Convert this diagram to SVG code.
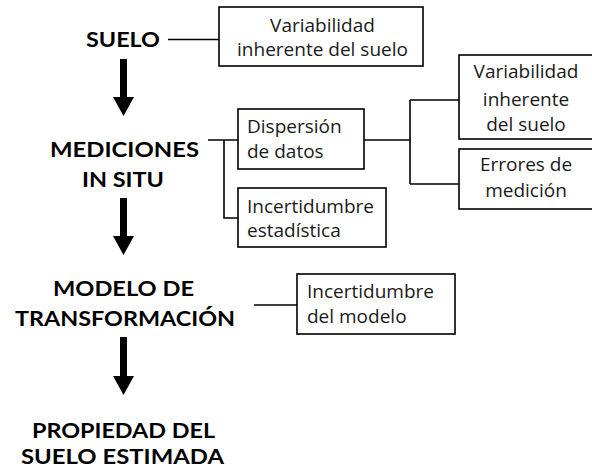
<svg xmlns="http://www.w3.org/2000/svg" width="592" height="470" viewBox="0 0 592 470">
<style>
.title{font-family:Lato,"Open Sans",sans-serif;font-weight:bold;font-size:21.5px;fill:#000;text-anchor:middle}
.body{font-family:"Open Sans","DejaVu Sans",sans-serif;font-size:19px;fill:#1a1a1a}
.mid{text-anchor:middle}
.box{fill:#fff;stroke:#000;stroke-width:1.6}
.conn{fill:none;stroke:#000;stroke-width:1.6}
.arrow{fill:#000}
</style>
<rect width="592" height="470" fill="#fff"/>
<g id="connectors">
<path class="conn" d="M168 39.5H219"/>
<path class="conn" d="M208 140H238M224 140V218H238"/>
<path class="conn" d="M364 140H410M410 100V184M410 100H459M410 184H459"/>
<path class="conn" d="M254 305H297"/>
<path class="arrow" d="M120 59H127V97H134L123.5 116L113 97H120Z"/>
<path class="arrow" d="M120 198H127V236H134L123.5 255L113 236H120Z"/>
<path class="arrow" d="M120 337H127V376H134L123.5 395L113 376H120Z"/>
</g>
<g id="suelo"><text class="title" x="123" y="47" textLength="74" lengthAdjust="spacingAndGlyphs">SUELO</text></g>
<g id="mediciones"><text class="title" x="124.5" y="157" textLength="149" lengthAdjust="spacingAndGlyphs">MEDICIONES</text><text class="title" x="123" y="187" textLength="82" lengthAdjust="spacingAndGlyphs">IN SITU</text></g>
<g id="modelo"><text class="title" x="123.5" y="296" textLength="141" lengthAdjust="spacingAndGlyphs">MODELO DE</text><text class="title" x="125" y="326" textLength="220" lengthAdjust="spacingAndGlyphs">TRANSFORMACIÓN</text></g>
<g id="propiedad"><text class="title" x="123.5" y="438" textLength="183" lengthAdjust="spacingAndGlyphs">PROPIEDAD DEL</text><text class="title" x="122.5" y="464" textLength="203" lengthAdjust="spacingAndGlyphs">SUELO ESTIMADA</text></g>
<g id="var1"><rect class="box" x="219" y="7" width="204" height="59"/><text class="body mid" x="322.5" y="32">Variabilidad</text><text class="body mid" x="322.5" y="56">inherente del suelo</text></g>
<g id="dispersion"><rect class="box" x="238" y="109" width="126" height="60"/><text class="body" x="247" y="133">Dispersión</text><text class="body" x="247" y="158">de datos</text></g>
<g id="incest"><rect class="box" x="238" y="188" width="148" height="59"/><text class="body" x="247" y="213">Incertidumbre</text><text class="body" x="247" y="237">estadística</text></g>
<g id="var2"><rect class="box" x="459" y="55" width="150" height="84"/><text class="body mid" x="526" y="78">Variabilidad</text><text class="body mid" x="526" y="106">inherente</text><text class="body mid" x="526" y="131">del suelo</text></g>
<g id="errores"><rect class="box" x="459" y="149" width="150" height="60"/><text class="body mid" x="526" y="171">Errores de</text><text class="body mid" x="526" y="197">medición</text></g>
<g id="incmod"><rect class="box" x="297" y="274" width="158" height="60"/><text class="body" x="307" y="298">Incertidumbre</text><text class="body" x="307" y="323">del modelo</text></g>
</svg>
